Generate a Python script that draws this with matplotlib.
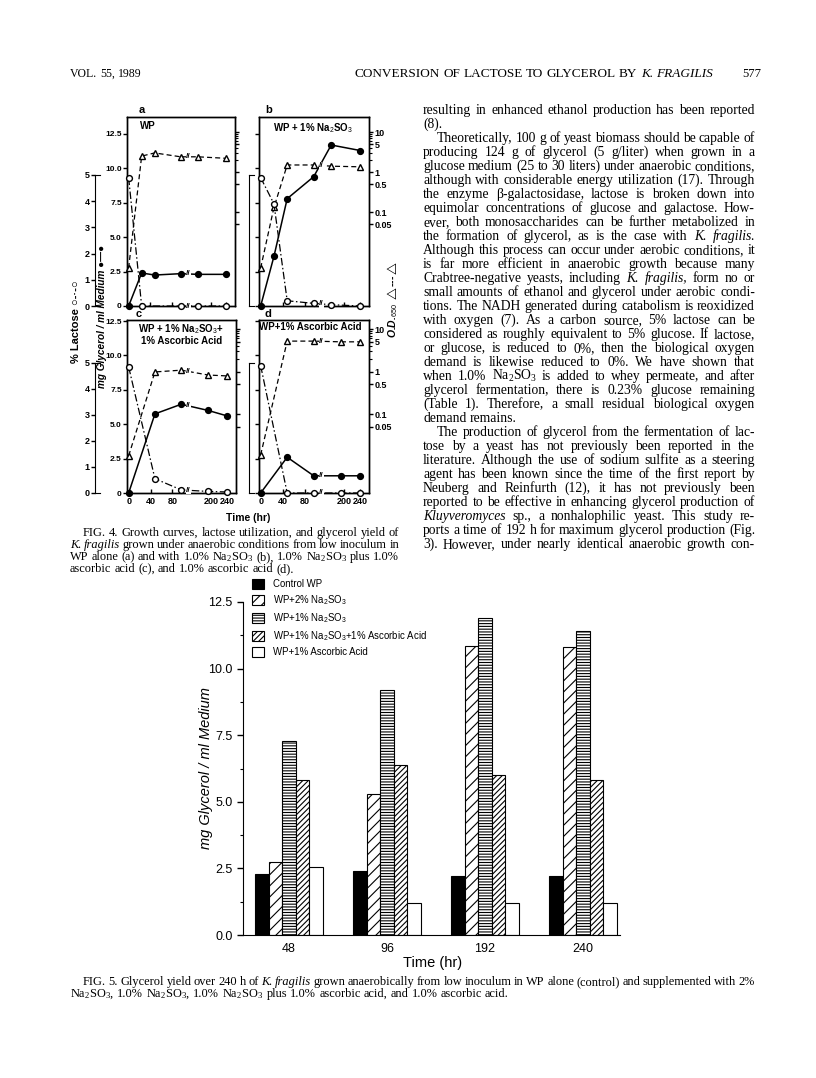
import numpy as np
import matplotlib
matplotlib.use("Agg")
import matplotlib.pyplot as plt
from matplotlib.transforms import IdentityTransform
from matplotlib.ticker import NullFormatter
from matplotlib.patches import Patch

W, H = 816, 1078
SANS = ['Liberation Sans', 'DejaVu Sans']
SERIF = ['Liberation Serif', 'DejaVu Serif']
plt.rcParams['font.family'] = SANS
plt.rcParams['mathtext.fontset'] = 'custom'
plt.rcParams['mathtext.rm'] = 'Liberation Serif'
plt.rcParams['mathtext.it'] = 'Liberation Serif:italic'
plt.rcParams['mathtext.sf'] = 'Liberation Sans'
plt.rcParams['hatch.linewidth'] = 0.8

# ---------------- Fig. 4 data ----------------
a_time = [0, 24, 48, 96, 168, 240]
a_glycerol = [0, 2.4, 2.25, 2.35, 2.3, 2.3]
a_lac_time = [0, 24, 96, 168, 240]
a_lactose = [4.9, 0, 0, 0, 0]
a_od = [0.004, 2.5, 3.0, 2.4, 2.4, 2.2]

b_time = [0, 24, 48, 96, 168, 240]
b_glycerol = [0, 3.6, 7.8, 9.4, 11.7, 11.3]
b_lac_time = [0, 24, 48, 96, 168, 240]
b_lactose = [4.9, 3.9, 0.2, 0.1, 0.05, 0]
b_od = [0.004, 0.13, 1.5, 1.5, 1.4, 1.35]

c_time = [0, 48, 96, 192, 240]
c_glycerol = [0, 5.75, 6.45, 6.0, 5.6]
c_lac_time = [0, 48, 96, 192, 240]
c_lactose = [4.85, 0.55, 0.12, 0.06, 0.04]
c_od = [0.0105, 0.98, 1.08, 0.83, 0.79]

d_time = [0, 48, 96, 192, 240]
d_glycerol = [0, 2.6, 1.25, 1.25, 1.25]
d_lac_time = [0, 48, 96, 192, 240]
d_lactose = [4.9, 0, 0, 0, 0]
d_od = [0.011, 5.2, 5.2, 5.0, 5.0]

glyc_ticks = [0, 2.5, 5, 7.5, 10, 12.5]
glyc_labels = ['0', '2.5', '5.0', '7.5', '10.0', '12.5']
od_ticks = [10, 5, 1, 0.5, 0.1, 0.05]
od_labels = ['10', '5', '1', '0.5', '0.1', '0.05']
lac_ticks = [0, 1, 2, 3, 4, 5]
time_ticks = [0, 40, 80, 200, 240]

# ---------------- Fig. 5 data ----------------
hours = ['48', '96', '192', '240']
control_wp = [2.3, 2.4, 2.2, 2.2]
wp_2_sulfite = [2.75, 5.3, 10.85, 10.8]
wp_1_sulfite = [7.3, 9.2, 11.9, 11.4]
wp_sulfite_ascorbic = [5.8, 6.4, 6.0, 5.8]
wp_ascorbic = [2.55, 1.2, 1.2, 1.2]
series5 = [control_wp, wp_2_sulfite, wp_1_sulfite, wp_sulfite_ascorbic, wp_ascorbic]
names5 = ['Control WP',
          r'WP+2% Na$_\mathsf{2}$SO$_\mathsf{3}$',
          r'WP+1% Na$_\mathsf{2}$SO$_\mathsf{3}$',
          r'WP+1% Na$_\mathsf{2}$SO$_\mathsf{3}$+1% Ascorbic Acid',
          'WP+1% Ascorbic Acid']
fills5 = ['black', 'white', 'white', 'white', 'white']
hatches5 = [None, '///', '------', '//////', None]

fig = plt.figure(figsize=(W / 100, H / 100), dpi=100)
fig.patch.set_facecolor('white')
renderer = fig.canvas.get_renderer()


def rect(x0, y0, x1, y1):
    return [x0 / W, 1 - y1 / H, (x1 - x0) / W, (y1 - y0) / H]


def put(x, y, s, **kw):
    return fig.text(x / W, 1 - y / H, s, **kw)


# broken time axis: 0-96 h wide, gap compressed, 160-240 h
brk_h = [-100, 0, 96, 160, 400]
brk_p = [-55, 0, 52.8, 67, 163]


def fwd(t):
    return np.interp(t, brk_h, brk_p)


def inv(p):
    return np.interp(p, brk_p, brk_h)


placed_breaks = []


def break_mark(axis, xs, ys, t_break=130):
    for i in range(len(xs) - 1):
        if xs[i] <= 96 < xs[i + 1]:
            p0 = axis.transData.transform((xs[i], ys[i]))
            p1 = axis.transData.transform((xs[i + 1], ys[i + 1]))
            xb = axis.transData.transform((t_break, ys[i]))[0]
            f = (xb - p0[0]) / (p1[0] - p0[0])
            yb = p0[1] + f * (p1[1] - p0[1])
            if any(abs(xb - u) < 8 and abs(yb - v) < 8 for u, v in placed_breaks):
                continue
            placed_breaks.append((xb, yb))
            fig.text(xb / W, yb / H, '//', fontsize=6, fontweight='bold',
                     ha='center', va='center', zorder=10,
                     bbox=dict(facecolor='white', edgecolor='none', pad=0.1))


panels = [
    dict(box=(127, 117, 235, 306), lac5=175, od_lim=(4.5e-4, 23.7),
         t=a_time, g=a_glycerol, lt=a_lac_time, l=a_lactose, od=a_od,
         left=True, right=False, xlab=False),
    dict(box=(259, 117, 369, 306), lac5=175, od_lim=(4.5e-4, 23.7),
         t=b_time, g=b_glycerol, lt=b_lac_time, l=b_lactose, od=b_od,
         left=False, right=True, xlab=False),
    dict(box=(127, 320, 236, 493), lac5=363, od_lim=(1.4e-3, 16.3),
         t=c_time, g=c_glycerol, lt=c_lac_time, l=c_lactose, od=c_od,
         left=True, right=False, xlab=True),
    dict(box=(259, 320, 369, 493), lac5=363, od_lim=(1.4e-3, 16.3),
         t=d_time, g=d_glycerol, lt=d_lac_time, l=d_lactose, od=d_od,
         left=False, right=True, xlab=True),
]

breaks = []
for p in panels:
    x0, y0, x1, y1 = p['box']
    ax = fig.add_axes(rect(*p['box']))
    ax.set_xscale('function', functions=(fwd, inv))
    ax.set_xlim(-3, 262)
    ax.set_ylim(0, (y1 - y0) / 13.76)
    ax2 = ax.twinx()
    ax2.set_yscale('log')
    ax2.set_ylim(*p['od_lim'])
    ax3 = ax.twinx()
    ax3.set_ylim(0, 5 * (y1 - y0) / (y1 - p['lac5']))
    ax3.axis('off')
    for a in (ax, ax2):
        for s in a.spines.values():
            s.set_linewidth(1.0)

    if p['left']:
        ax.set_yticks(glyc_ticks, glyc_labels, fontsize=6.0, fontweight='bold')
    else:
        ax.set_yticks(glyc_ticks)
    ax.tick_params(axis='y', direction='out', length=3, width=1, pad=0.8,
                   labelleft=p['left'])
    if p['xlab']:
        ax.set_xticks(time_ticks, [str(v) for v in time_ticks],
                      fontsize=6.5, fontweight='bold')
    else:
        ax.set_xticks(time_ticks)
    ax.tick_params(axis='x', direction='in', length=3, width=1, pad=3,
                   labelbottom=p['xlab'])

    if p['right']:
        ax2.set_yticks(od_ticks, od_labels, fontsize=6.5, fontweight='bold')
    else:
        ax2.set_yticks(od_ticks)
    ax2.set_yticks([2, 3, 4, 6, 7, 8, 9], minor=True)
    ax2.yaxis.set_minor_formatter(NullFormatter())
    ax2.tick_params(axis='y', which='major', direction='out', length=3,
                    width=1, pad=1, labelright=p['right'])
    ax2.tick_params(axis='y', which='minor', direction='out', length=2,
                    width=0.8)

    ax.plot(p['t'], p['g'], color='black', lw=1.1, marker='o', ms=4.2,
            mfc='black', mec='black', clip_on=False, zorder=4)
    ax3.plot(p['lt'], p['l'], color='black', lw=0.9, ls=(0, (6, 2, 1.2, 2)),
             marker='o', ms=4.2, mfc='white', mec='black', clip_on=False, zorder=5)
    ax2.plot(p['t'], p['od'], color='black', lw=0.9, ls=(0, (4, 2.5)),
             marker='^', ms=4.6, mfc='white', mec='black', clip_on=False, zorder=5)
    breaks.append((ax2, p['t'], p['od']))
    breaks.append((ax, p['t'], p['g']))
    breaks.append((ax3, p['lt'], p['l']))

for axis, xs, ys in breaks:
    break_mark(axis, xs, ys)

# lactose scales at the far left and the small brackets between panels
for top, bot in [(175, 306), (363, 493)]:
    la = fig.add_axes(rect(95, top, 100, bot))
    la.set_ylim(0, 5)
    la.set_xticks([])
    la.set_yticks(lac_ticks, [str(v) for v in lac_ticks], fontsize=6.5,
                  fontweight='bold')
    la.tick_params(axis='y', direction='out', length=3, width=1, pad=1)
    la.spines['right'].set_visible(False)
    la.patch.set_visible(False)
    br = fig.add_axes(rect(249, top, 254, bot))
    br.set_xticks([])
    br.set_yticks([])
    br.spines['right'].set_visible(False)
    br.patch.set_visible(False)

put(142, 110, 'a', fontsize=8, fontweight='bold', ha='center', va='center')
put(269, 110, 'b', fontsize=8, fontweight='bold', ha='center', va='center')
put(139, 314, 'c', fontsize=8, fontweight='bold', ha='center', va='center')
put(268, 314, 'd', fontsize=8, fontweight='bold', ha='center', va='center')
put(140, 126, 'WP', fontsize=7, fontweight='bold', ha='left', va='center')
put(313, 128, r'WP + 1% Na$_\mathsf{2}$SO$_\mathsf{3}$', fontsize=7,
    fontweight='bold', ha='center', va='center')
put(181, 329, r'WP + 1% Na$_\mathsf{2}$SO$_\mathsf{3}$+', fontsize=7,
    fontweight='bold', ha='center', va='center')
put(182, 341, '1% Ascorbic Acid', fontsize=7, fontweight='bold',
    ha='center', va='center')
put(310, 327, 'WP+1% Ascorbic Acid', fontsize=7, fontweight='bold',
    ha='center', va='center')
put(76, 322, '% Lactose \u25cb-\u00b7-\u25cb', fontsize=8, fontweight='bold',
    rotation=90, ha='center', va='center')
put(102, 316, 'mg Glycerol / ml Medium \u25cf\u2014\u25cf', fontsize=7.2,
    fontweight='bold', style='italic', rotation=90, ha='center', va='center')
put(393, 300, r'O.D.$_\mathsf{650}$ $\triangle$---$\triangle$', fontsize=7.5,
    fontweight='bold', style='italic', rotation=90, ha='center', va='center')
put(248, 518, 'Time (hr)', fontsize=7.5, fontweight='bold', ha='center',
    va='center')

# ---------------- Fig. 5 bar chart ----------------
ax5 = fig.add_axes(rect(243, 602, 620, 935))
xg = np.arange(len(hours))
bw = 0.138
handles = []
for i, (vals, name, fc, ht) in enumerate(zip(series5, names5, fills5, hatches5)):
    ax5.bar(xg + (i - 2) * bw, vals, width=bw, color=fc, edgecolor='black',
            hatch=ht, linewidth=0.8)
    handles.append(Patch(facecolor=fc, edgecolor='black', hatch=ht,
                         linewidth=0.8, label=name))
ax5.set_xlim(-0.47, 3.38)
ax5.set_ylim(0, 12.5)
ax5.set_yticks([0, 2.5, 5, 7.5, 10, 12.5],
               ['0.0', '2.5', '5.0', '7.5', '10.0', '12.5'], fontsize=9)
ax5.set_yticks(np.arange(0, 12.6, 1.25), minor=True)
ax5.set_xticks(xg, hours, fontsize=9)
ax5.tick_params(axis='y', which='major', direction='out', length=4, width=1)
ax5.tick_params(axis='y', which='minor', direction='out', length=2.5, width=0.8)
ax5.tick_params(axis='x', length=0, pad=6)
ax5.spines['top'].set_visible(False)
ax5.spines['right'].set_visible(False)
ax5.patch.set_visible(False)
ax5.legend(handles=handles, loc='upper left', bbox_to_anchor=(252 / W, 1 - 579 / H),
           bbox_transform=fig.transFigure, frameon=False, fontsize=6.9,
           handlelength=1.25, handleheight=1.25, labelspacing=0.45,
           handletextpad=0.9, borderpad=0, borderaxespad=0)
put(206, 768, 'mg Glycerol / ml Medium', fontsize=10.5, style='italic',
    rotation=90, ha='center', va='center')
put(433, 963, 'Time (hr)', fontsize=10.5, ha='center', va='center')


# ---------------- page text ----------------
def text_line(line, x0, x1, y, size, justify=True, align='left'):
    arts, widths = [], []
    for w in line.split(' '):
        italic = w.startswith('*')
        t = fig.text(0, 0, w.lstrip('*'), fontsize=size, family=SERIF,
                     style='italic' if italic else 'normal', va='baseline',
                     ha='left', transform=IdentityTransform())
        widths.append(t.get_window_extent(renderer).width)
        arts.append(t)
    space = size * 100 / 72 * 0.25
    if justify and len(arts) > 1:
        gap = max((x1 - x0 - sum(widths)) / (len(arts) - 1), 0.55 * space)
    else:
        gap = space
    if align == 'right':
        x0 = x1 - sum(widths) - gap * (len(arts) - 1)
    x = x0
    for t, wd in zip(arts, widths):
        t.set_position((x, H - y))
        x += wd + gap


text_line('VOL. 55, 1989', 70, 200, 77, 8.5, justify=False)
text_line('CONVERSION OF LACTOSE TO GLYCEROL BY *K. *FRAGILIS', 300, 713, 77,
          9.5, justify=False, align='right')
text_line('577', 742, 756, 77, 9, justify=False)

body_lines = [
    "resulting in enhanced ethanol production has been reported",
    "(8).",
    "Theoretically, 100 g of yeast biomass should be capable of",
    "producing 124 g of glycerol (5 g/liter) when grown in a",
    "glucose medium (25 to 30 liters) under anaerobic conditions,",
    "although with considerable energy utilization (17). Through",
    "the enzyme \u03b2-galactosidase, lactose is broken down into",
    "equimolar concentrations of glucose and galactose. How-",
    "ever, both monosaccharides can be further metabolized in",
    "the formation of glycerol, as is the case with *K. *fragilis.",
    "Although this process can occur under aerobic conditions, it",
    "is far more efficient in anaerobic growth because many",
    "Crabtree-negative yeasts, including *K. *fragilis, form no or",
    "small amounts of ethanol and glycerol under aerobic condi-",
    "tions. The NADH generated during catabolism is reoxidized",
    "with oxygen (7). As a carbon source, 5% lactose can be",
    "considered as roughly equivalent to 5% glucose. If lactose,",
    "or glucose, is reduced to 0%, then the biological oxygen",
    "demand is likewise reduced to 0%. We have shown that",
    "when 1.0% Na$_2$SO$_3$ is added to whey permeate, and after",
    "glycerol fermentation, there is 0.23% glucose remaining",
    "(Table 1). Therefore, a small residual biological oxygen",
    "demand remains.",
    "The production of glycerol from the fermentation of lac-",
    "tose by a yeast has not previously been reported in the",
    "literature. Although the use of sodium sulfite as a steering",
    "agent has been known since the time of the first report by",
    "Neuberg and Reinfurth (12), it has not previously been",
    "reported to be effective in enhancing glycerol production of",
    "*Kluyveromyces sp., a nonhalophilic yeast. This study re-",
    "ports a time of 192 h for maximum glycerol production (Fig.",
    "3). However, under nearly identical anaerobic growth con-",
]
body_plain = {1, 22}
body_indent = {2, 23}
for i, line in enumerate(body_lines):
    x0 = 437 if i in body_indent else 423
    text_line(line, x0, 755, 114 + 14.0 * i, 9.8, justify=i not in body_plain)

fig4_caption = [
    "FIG. 4. Growth curves, lactose utilization, and glycerol yield of",
    "*K. *fragilis grown under anaerobic conditions from low inoculum in",
    "WP alone (a) and with 1.0% Na$_2$SO$_3$ (b), 1.0% Na$_2$SO$_3$ plus 1.0%",
    "ascorbic acid (c), and 1.0% ascorbic acid (d).",
]
for i, line in enumerate(fig4_caption):
    text_line(line, 83 if i == 0 else 70, 399, 536 + 12 * i, 8.9,
              justify=i < 3)

fig5_caption = [
    "FIG. 5. Glycerol yield over 240 h of *K. *fragilis grown anaerobically "
    "from low inoculum in WP alone (control) and supplemented with 2%",
    "Na$_2$SO$_3$, 1.0% Na$_2$SO$_3$, 1.0% Na$_2$SO$_3$ plus 1.0% ascorbic "
    "acid, and 1.0% ascorbic acid.",
]
for i, line in enumerate(fig5_caption):
    text_line(line, 83 if i == 0 else 70, 755, 985 + 12 * i, 8.9,
              justify=i == 0)

fig.savefig('out.png', dpi=100)
